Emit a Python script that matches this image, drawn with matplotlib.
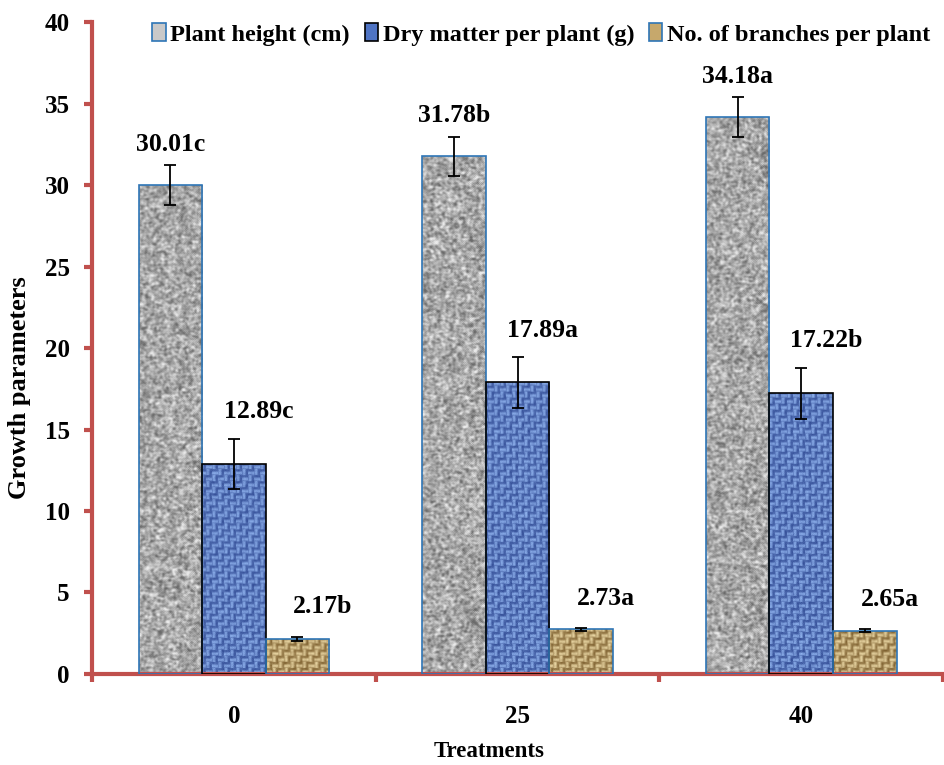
import numpy as np
import matplotlib
matplotlib.use('Agg')
import matplotlib.pyplot as plt
from matplotlib.patches import Patch

# data
treatments = ['0', '25', '40']
series_names = ['Plant height (cm)', 'Dry matter per plant (g)', 'No. of branches per plant']
plant_height = [30.01, 31.78, 34.18]
dry_matter = [12.89, 17.89, 17.22]
branches = [2.17, 2.73, 2.65]
plant_height_err = [1.2, 1.2, 1.2]
dry_matter_err = [1.56, 1.56, 1.56]
branches_err = [0.12, 0.08, 0.08]
plant_height_lbl = ['30.01c', '31.78b', '34.18a']
dry_matter_lbl = ['12.89c', '17.89a', '17.22b']
branches_lbl = ['2.17b', '2.73a', '2.65a']

plt.rcParams['font.family'] = ['Liberation Serif', 'DejaVu Serif']
plt.rcParams['font.weight'] = 'bold'

AX_RED = '#C0504D'
BAR_BLUE = '#2E75B6'


# texture helpers (bar fills only, not data)
def hash_noise(h, w, seed=0.0):
    yy, xx = np.mgrid[0:h, 0:w].astype(float)
    v = np.sin(xx * 12.9898 + yy * 78.233 + seed) * 43758.5453
    return v - np.floor(v)


def blur(a, n=1):
    for _ in range(n):
        a = (a + np.roll(a, 1, 0) + np.roll(a, -1, 0) + np.roll(a, 1, 1) + np.roll(a, -1, 1)) / 5
    return a


def norm01(a):
    return (a - a.min()) / (a.max() - a.min())


def weave(h, w, period, dark, light, seed):
    yy, xx = np.mgrid[0:h, 0:w].astype(float)
    v = 0.5 * (1 + np.sin(2 * np.pi * xx / period))
    hz = 0.5 * (1 + np.sin(2 * np.pi * yy / period))
    blk = ((xx // period) + (yy // period)) % 2 == 0
    t = np.where(blk, v, hz) * 0.6
    t = t + 0.4 * norm01(blur(hash_noise(h, w, seed), 1))
    dark = np.array(dark)
    light = np.array(light)
    return dark + (light - dark) * np.clip(t, 0, 1)[..., None]


H, W = 652, 852
g = norm01(blur(hash_noise(H, W, 1.0), 2))
g = np.clip((g - 0.5) * 1.6 + 0.5, 0, 1)
gray_tex = np.dstack([0.42 + 0.5 * g] * 3)
blue_tex = weave(H, W, 6, (0.17, 0.27, 0.56), (0.58, 0.72, 0.95), 2.0)
tan_tex = weave(H, W, 6, (0.45, 0.33, 0.14), (0.97, 0.90, 0.70), 3.0)

fig = plt.figure(figsize=(9.44, 7.65), dpi=100)
ax = fig.add_axes([0.0975, 0.119, 0.9015, 0.852])

x = np.arange(len(treatments))
bw = 0.224
groups = [
    (plant_height, plant_height_err, plant_height_lbl, gray_tex, BAR_BLUE, -bw, 0, 21),
    (dry_matter, dry_matter_err, dry_matter_lbl, blue_tex, 'black', 0, 25, 27),
    (branches, branches_err, branches_lbl, tan_tex, BAR_BLUE, bw, 25, 30),
]

for vals, errs, lbls, tex, ec, off, dx_px, dy_px in groups:
    bars = ax.bar(x + off, vals, bw, facecolor='none', edgecolor=ec, linewidth=1.2, zorder=3)
    for b in bars:
        im = ax.imshow(tex, extent=(-0.5, 2.5, 0, 40), origin='lower', aspect='auto',
                       interpolation='bilinear', zorder=2)
        im.set_clip_path(b)
    ax.errorbar(x + off, vals, yerr=errs, fmt='none', ecolor='black', elinewidth=1.3,
                capsize=4, capthick=1.3, zorder=4)
    for xi, v, e, t in zip(x + off, vals, errs, lbls):
        ax.annotate(t, (xi, v + e), xytext=(dx_px * 0.72, dy_px * 0.72), textcoords='offset points',
                    ha='center', va='center', fontsize=18.5, fontweight='bold', zorder=5)

ax.set_xlim(-0.5, 2.5)
ax.set_ylim(0, 40)
ax.set_yticks(np.arange(0, 41, 5))
ax.set_xticks(x)
ax.set_xticklabels(treatments)
ax.set_xticks([-0.5, 0.5, 1.5, 2.5], minor=True)

for s in ['top', 'right']:
    ax.spines[s].set_visible(False)
for s in ['left', 'bottom']:
    ax.spines[s].set_color(AX_RED)
    ax.spines[s].set_linewidth(3)
    ax.spines[s].set_capstyle('projecting')

ax.tick_params(axis='y', colors=AX_RED, length=6, width=3, pad=10, labelcolor='black', labelsize=18)
ax.tick_params(axis='x', which='major', length=0, pad=22, labelsize=18)
ax.tick_params(axis='x', which='minor', colors=AX_RED, length=6, width=3)
for lab in ax.get_xticklabels() + ax.get_yticklabels():
    lab.set_fontweight('bold')

ax.set_xlabel('Treatments', fontsize=16.5, fontweight='bold', labelpad=10, x=0.467)
ax.set_ylabel('Growth parameters', fontsize=19, fontweight='bold', labelpad=10, y=0.44)

handles = [
    Patch(facecolor='#C9C9C9', edgecolor=BAR_BLUE, linewidth=1.2),
    Patch(facecolor='#4F74C4', edgecolor='black', linewidth=1.2),
    Patch(facecolor='#C6A86C', edgecolor=BAR_BLUE, linewidth=1.2),
]
fig.legend(handles, series_names, loc='center left', bbox_to_anchor=(0.138, 0.955),
           ncol=3, frameon=False, handlelength=0.55, handleheight=0.75, handletextpad=0.2,
           columnspacing=0.6, prop={'weight': 'bold', 'size': 17.5})

fig.savefig('out.png', dpi=100)
